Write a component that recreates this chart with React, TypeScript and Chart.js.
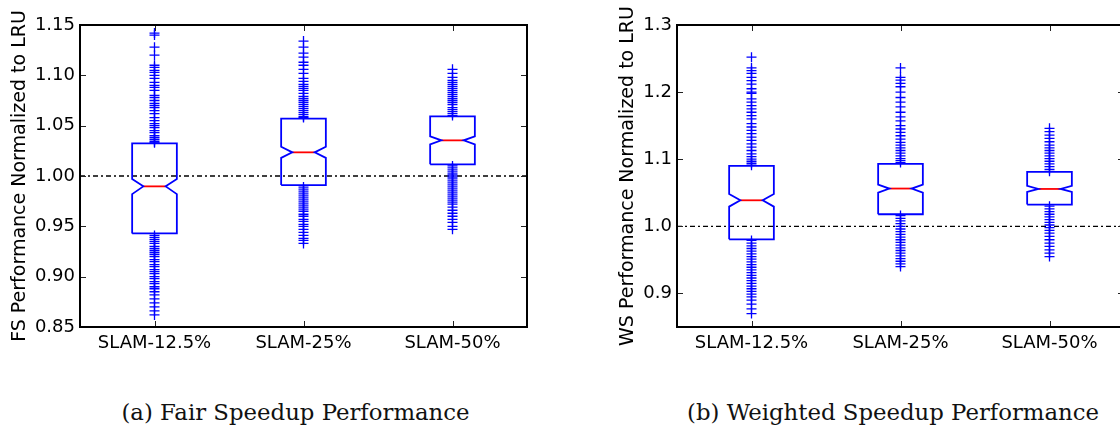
import React, { useEffect, useRef } from "react";
import { Chart, registerables } from "chart.js";

Chart.register(...registerables);

// ---------- data ----------
const categories = ["SLAM-12.5%", "SLAM-25%", "SLAM-50%"];

// Fair speedup (FS) box statistics per category
const fsQ1 = [0.943, 0.991, 1.0116];
const fsQ3 = [1.0324, 1.0569, 1.0592];
const fsMedian = [0.9897, 1.0235, 1.0354];
const fsNotchLo = [0.982, 1.018, 1.0315];
const fsNotchHi = [0.997, 1.029, 1.0394];

const fsFliers1 = [1.142, 1.14, 1.128, 1.12, 1.11, 1.108, 1.105, 1.103, 1.1, 1.097, 1.093, 1.09, 1.088, 1.085, 1.08, 1.078, 1.075, 1.072, 1.07, 1.068, 1.065, 1.062, 1.058, 1.055, 1.052, 1.05, 1.048, 1.045, 1.043, 1.04, 1.038, 1.036, 1.034, 1.033,
  0.941, 0.939, 0.937, 0.935, 0.933, 0.93, 0.928, 0.926, 0.924, 0.922, 0.92, 0.917, 0.915, 0.912, 0.91, 0.907, 0.905, 0.903, 0.9, 0.898, 0.895, 0.893, 0.89, 0.888, 0.885, 0.882, 0.878, 0.874, 0.87, 0.866, 0.862];
const fsFliers2 = [1.134, 1.128, 1.122, 1.118, 1.113, 1.11, 1.106, 1.102, 1.097, 1.094, 1.091, 1.089, 1.087, 1.085, 1.082, 1.079, 1.077, 1.075, 1.073, 1.071, 1.069, 1.067, 1.065, 1.063, 1.061, 1.059, 1.058,
  0.989, 0.987, 0.985, 0.983, 0.981, 0.979, 0.977, 0.975, 0.973, 0.971, 0.969, 0.967, 0.965, 0.962, 0.96, 0.957, 0.955, 0.952, 0.95, 0.947, 0.944, 0.941, 0.938, 0.936, 0.933];
const fsFliers3 = [1.106, 1.102, 1.098, 1.095, 1.093, 1.091, 1.089, 1.087, 1.085, 1.083, 1.081, 1.079, 1.077, 1.075, 1.073, 1.071, 1.068, 1.066, 1.064, 1.062, 1.06,
  1.01, 1.008, 1.006, 1.004, 1.002, 1.0, 0.998, 0.996, 0.994, 0.992, 0.99, 0.988, 0.986, 0.984, 0.982, 0.98, 0.978, 0.976, 0.974, 0.972, 0.969, 0.966, 0.963, 0.96, 0.957, 0.954, 0.95, 0.947];

// Weighted speedup (WS) box statistics per category
const wsQ1 = [0.9806, 1.018, 1.0324];
const wsQ3 = [1.09, 1.093, 1.081];
const wsMedian = [1.0388, 1.0563, 1.0557];
const wsNotchLo = [1.0294, 1.0503, 1.0512];
const wsNotchHi = [1.0483, 1.0622, 1.0602];

const wsFliers1 = [1.252, 1.236, 1.232, 1.228, 1.222, 1.217, 1.212, 1.205, 1.2, 1.198, 1.19, 1.185, 1.18, 1.175, 1.17, 1.165, 1.16, 1.153, 1.148, 1.143, 1.138, 1.133, 1.128, 1.123, 1.118, 1.113, 1.108, 1.104, 1.1, 1.097, 1.094, 1.091,
  0.979, 0.975, 0.971, 0.967, 0.963, 0.959, 0.955, 0.951, 0.947, 0.943, 0.939, 0.935, 0.931, 0.927, 0.923, 0.919, 0.915, 0.911, 0.907, 0.903, 0.899, 0.895, 0.89, 0.884, 0.877, 0.87];
const wsFliers2 = [1.236, 1.222, 1.218, 1.213, 1.208, 1.2, 1.192, 1.185, 1.178, 1.17, 1.163, 1.157, 1.15, 1.145, 1.14, 1.135, 1.13, 1.125, 1.121, 1.117, 1.113, 1.109, 1.105, 1.101, 1.098, 1.095,
  1.016, 1.012, 1.008, 1.004, 1.0, 0.996, 0.992, 0.988, 0.984, 0.98, 0.976, 0.972, 0.968, 0.964, 0.96, 0.956, 0.952, 0.948, 0.944, 0.94];
const wsFliers3 = [1.146, 1.141, 1.136, 1.131, 1.126, 1.121, 1.117, 1.113, 1.109, 1.105, 1.101, 1.097, 1.093, 1.089, 1.085, 1.082,
  1.03, 1.026, 1.022, 1.018, 1.014, 1.01, 1.006, 1.002, 0.998, 0.994, 0.99, 0.985, 0.98, 0.975, 0.97, 0.965, 0.96, 0.955];

const fsTicks = [0.85, 0.9, 0.95, 1.0, 1.05, 1.1, 1.15];
const wsTicks = [0.9, 1.0, 1.1, 1.2, 1.3];
const referenceValue = 1.0;

// ---------- styling ----------
const BLUE = "#0000ff";
const RED = "#ff0000";
const BOX_HALF = 0.15;
const SANS = "'DejaVu Sans', sans-serif";

type Stats = { q1: number[]; q3: number[]; med: number[]; lo: number[]; hi: number[]; fliers: number[][] };

function buildDatasets(s: Stats) {
  const ds: any[] = [];
  categories.forEach((_, i) => {
    const x = i + 1;
    const w = BOX_HALF;
    ds.push({
      type: "line",
      data: [
        { x: x - w, y: s.q1[i] }, { x: x + w, y: s.q1[i] }, { x: x + w, y: s.lo[i] },
        { x: x + w / 2, y: s.med[i] }, { x: x + w, y: s.hi[i] }, { x: x + w, y: s.q3[i] },
        { x: x - w, y: s.q3[i] }, { x: x - w, y: s.hi[i] }, { x: x - w / 2, y: s.med[i] },
        { x: x - w, y: s.lo[i] }, { x: x - w, y: s.q1[i] },
      ],
      borderColor: BLUE, borderWidth: 1.8, pointRadius: 0, fill: false, tension: 0,
    });
    ds.push({
      type: "line",
      data: [{ x: x - w / 2, y: s.med[i] }, { x: x + w / 2, y: s.med[i] }],
      borderColor: RED, borderWidth: 1.8, pointRadius: 0, fill: false,
    });
  });
  categories.forEach((_, i) => {
    ds.push({
      type: "scatter",
      data: s.fliers[i].map((v) => ({ x: i + 1, y: v })),
      pointStyle: "cross", pointRadius: 5, pointBorderWidth: 1.3,
      borderColor: BLUE, backgroundColor: BLUE, showLine: false,
    });
  });
  ds.push({
    type: "line",
    data: [{ x: 0.5, y: referenceValue }, { x: 3.5, y: referenceValue }],
    borderColor: "#000", borderWidth: 1.3, borderDash: [5, 3, 2, 3],
    pointRadius: 0, fill: false,
  });
  return ds;
}

const frameTicks = {
  id: "frameTicks",
  afterDraw(chart: any) {
    const { ctx, chartArea: a, scales } = chart;
    const tl = 6;
    ctx.save();
    ctx.strokeStyle = "#222";
    ctx.lineWidth = 1;
    const seg = (x1: number, y1: number, x2: number, y2: number) => {
      ctx.beginPath(); ctx.moveTo(x1, y1); ctx.lineTo(x2, y2); ctx.stroke();
    };
    scales.y.ticks.forEach((t: any) => {
      const py = Math.round(scales.y.getPixelForValue(t.value)) + 0.5;
      seg(a.left, py, a.left + tl, py);
      seg(a.right - tl, py, a.right, py);
    });
    scales.x.ticks.forEach((t: any) => {
      const px = Math.round(scales.x.getPixelForValue(t.value)) + 0.5;
      seg(px, a.bottom, px, a.bottom - tl);
      seg(px, a.top, px, a.top + tl);
    });
    ctx.strokeStyle = "#000";
    ctx.lineWidth = 2;
    ctx.strokeRect(a.left, a.top, a.right - a.left, a.bottom - a.top);
    ctx.restore();
  },
};

function makeConfig(s: Stats, yMin: number, yMax: number, yTicks: number[], decimals: number,
  title: string, axisWidth: number, titlePad: number, padRight: number) {
  return {
    type: "scatter",
    data: { datasets: buildDatasets(s) },
    plugins: [frameTicks],
    options: {
      responsive: false,
      animation: false,
      layout: { padding: { left: 0, top: 25, right: padRight, bottom: 0 } },
      plugins: { legend: { display: false }, tooltip: { enabled: false } },
      scales: {
        x: {
          type: "linear", min: 0.5, max: 3.5,
          grid: { display: false, drawTicks: false }, border: { display: false },
          afterBuildTicks: (sc: any) => { sc.ticks = categories.map((_, i) => ({ value: i + 1 })); },
          afterFit: (sc: any) => { sc.height = 53; },
          ticks: {
            autoSkip: false, maxRotation: 0, padding: 6, color: "#000",
            font: { family: SANS, size: 18 },
            callback: (_v: any, idx: number) => categories[idx],
          },
        },
        y: {
          type: "linear", min: yMin, max: yMax,
          grid: { display: false, drawTicks: false }, border: { display: false },
          afterBuildTicks: (sc: any) => { sc.ticks = yTicks.map((v) => ({ value: v })); },
          afterFit: (sc: any) => { sc.width = axisWidth; },
          ticks: {
            padding: 5, color: "#000", font: { family: SANS, size: 18 },
            callback: (v: any) => Number(v).toFixed(decimals),
          },
          title: {
            display: true, text: title, color: "#000",
            font: { family: SANS, size: 19 }, padding: { top: titlePad, bottom: 0 },
          },
        },
      },
    },
  };
}

function ChartCanvas({ config, width, height }: { config: any; width: number; height: number }) {
  const ref = useRef<HTMLCanvasElement>(null);
  useEffect(() => {
    if (!ref.current) return;
    const c = new Chart(ref.current, config);
    return () => c.destroy();
  }, [config]);
  return <canvas ref={ref} width={width} height={height} style={{ width, height, display: "block" }} />;
}

const fsConfig = makeConfig(
  { q1: fsQ1, q3: fsQ3, med: fsMedian, lo: fsNotchLo, hi: fsNotchHi, fliers: [fsFliers1, fsFliers2, fsFliers3] },
  0.85, 1.15, fsTicks, 2, "FS Performance Normalized to LRU", 80, 9, 33);
const wsConfig = makeConfig(
  { q1: wsQ1, q3: wsQ3, med: wsMedian, lo: wsNotchLo, hi: wsNotchHi, fliers: [wsFliers1, wsFliers2, wsFliers3] },
  0.85, 1.3, wsTicks, 1, "WS Performance Normalized to LRU", 97, 37, 16);

const captionStyle = (center: number): React.CSSProperties => ({
  position: "absolute", left: center - 300, width: 600, top: 398, textAlign: "center",
  fontFamily: "'DejaVu Serif', serif", fontSize: 22.8, lineHeight: "28px", color: "#111",
});

export default function App() {
  return (
    <div style={{ position: "fixed", left: 0, top: 0, width: 1120, height: 427, overflow: "hidden", background: "#fff" }}>
      <div style={{ position: "absolute", left: 0, top: 0 }}>
        <ChartCanvas config={fsConfig} width={560} height={380} />
      </div>
      <div style={{ position: "absolute", left: 580, top: 0 }}>
        <ChartCanvas config={wsConfig} width={560} height={380} />
      </div>
      <div style={captionStyle(295.5)}>(a) Fair Speedup Performance</div>
      <div style={captionStyle(893)}>(b) Weighted Speedup Performance</div>
    </div>
  );
}
